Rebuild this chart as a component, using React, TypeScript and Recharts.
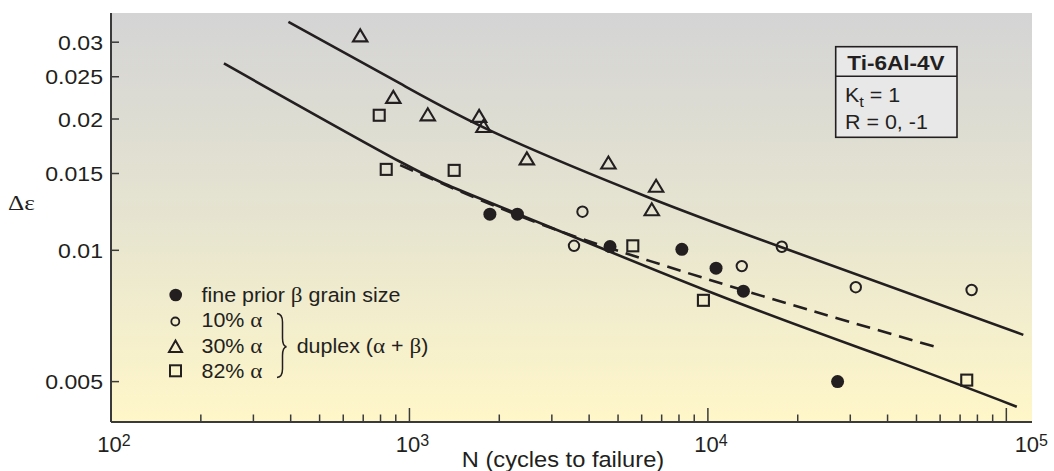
import React from 'react';
import { ComposedChart, XAxis, YAxis, Line, Scatter, CartesianGrid } from 'recharts';

// ---------- data (N = cycles to failure, e = strain range) ----------
const fineBetaN = [1860, 2300, 4700, 8180, 10650, 13150, 27200];
const fineBetaE = [0.0121, 0.0121, 0.0102, 0.01005, 0.0091, 0.00806, 0.005];

const alpha10N = [3800, 3560, 12990, 17690, 31300, 76500];
const alpha10E = [0.01226, 0.01024, 0.0092, 0.01019, 0.00823, 0.00811];

const alpha30N = [684, 883, 1152, 1712, 1770, 2474, 4642, 6707, 6486];
const alpha30E = [0.0311, 0.02248, 0.0205, 0.02033, 0.01927, 0.01625, 0.0159, 0.01406, 0.01242];

const alpha82N = [792, 836, 1412, 5603, 9661, 73680];
const alpha82E = [0.0204, 0.01533, 0.01525, 0.01024, 0.00768, 0.00504];

const upperN = [393, 930, 2013, 6243, 17460, 114000];
const upperE = [0.03338, 0.02413, 0.01837, 0.01327, 0.01019, 0.0064];

const lowerN = [239, 931, 2013, 10430, 41820, 108400];
const lowerE = [0.02682, 0.01596, 0.01259, 0.00797, 0.0056, 0.00438];

const dashedN = [931, 2537, 6243, 16160, 57690];
const dashedE = [0.01568, 0.01173, 0.0095, 0.00776, 0.00601];

const xTicks = [
  100, 200, 300, 400, 500, 600, 700, 800, 900,
  1000, 2000, 3000, 4000, 5000, 6000, 7000, 8000, 9000,
  10000, 20000, 30000, 40000, 50000, 60000, 70000, 80000, 90000,
  100000,
];
const xMajor = [100, 1000, 10000, 100000];
const xMajorExp = ['2', '3', '4', '5'];
const yTicks = [0.005, 0.01, 0.015, 0.02, 0.025, 0.03];
const yTickLabels = ['0.005', '0.01', '0.015', '0.02', '0.025', '0.03'];

const zip = (ns: number[], es: number[]) => ns.map((n, i) => ({ n, e: es[i] }));
const fineBeta = zip(fineBetaN, fineBetaE);
const alpha10 = zip(alpha10N, alpha10E);
const alpha30 = zip(alpha30N, alpha30E);
const alpha82 = zip(alpha82N, alpha82E);
const upper = zip(upperN, upperE);
const lower = zip(lowerN, lowerE);
const dashed = zip(dashedN, dashedE);

// ---------- styles ----------
const INK = '#231f20';
const AXIS = '#3a3a3a';
const SANS = '"Liberation Sans", Arial, Helvetica, sans-serif';
const SERIF = '"Liberation Serif", "Times New Roman", serif';
const SX = 1.1;
const xLabelShift = [3, 3, 3, 25];

const Txt = ({ x, y, size, anchor = 'start', weight = 'normal', sx = SX, family = SANS, children }: any) => (
  <text
    transform={`translate(${x} ${y}) scale(${sx} 1)`}
    fontSize={size}
    textAnchor={anchor}
    fontWeight={weight}
    fontFamily={family}
    fill={INK}
  >
    {children}
  </text>
);

// ---------- markers ----------
const FilledDot = (p: any) => <circle cx={p.cx} cy={p.cy} r={6.5} fill={INK} />;
const OpenDot = (p: any) => <circle cx={p.cx} cy={p.cy} r={5.2} fill="none" stroke={INK} strokeWidth={2} />;
const Tri = (p: any) => (
  <path
    d={`M${p.cx},${p.cy - 6} L${p.cx + 7.2},${p.cy + 6} L${p.cx - 7.2},${p.cy + 6} Z`}
    fill="none"
    stroke={INK}
    strokeWidth={2.1}
  />
);
const Sq = (p: any) => (
  <rect x={p.cx - 5.5} y={p.cy - 5.5} width={11} height={11} fill="none" stroke={INK} strokeWidth={2.1} />
);

// ---------- ticks ----------
const isMajor = (v: number) => xMajor.indexOf(v) >= 0;

const BottomTick = (props: any) => {
  const { x, y, payload } = props;
  const v = payload.value;
  const mi = xMajor.indexOf(v);
  return (
    <g>
      <line x1={x} x2={x} y1={y} y2={y - (mi >= 0 ? 14 : 7.5)} stroke={AXIS} strokeWidth={1.5} />
      {mi >= 0 && (
        <text x={x + xLabelShift[mi]} y={y + 29.7} textAnchor="middle" fontSize={22} fontFamily={SANS} fill={INK}>
          10
          <tspan fontSize={16} dy={-6}>
            {xMajorExp[mi]}
          </tspan>
        </text>
      )}
    </g>
  );
};

const TopTick = (props: any) => {
  const { x, y, payload } = props;
  return <line x1={x} x2={x} y1={y} y2={y + (isMajor(payload.value) ? 14 : 7.5)} stroke={AXIS} strokeWidth={1.5} />;
};

const LeftTick = (props: any) => {
  const { x, y, payload, index } = props;
  const i = yTicks.indexOf(payload.value);
  return (
    <g>
      <line x1={x} x2={x + 8} y1={y} y2={y} stroke={AXIS} strokeWidth={1.5} />
      <Txt x={x - 8} y={y + 7.5} size={21} anchor="end">
        {yTickLabels[i >= 0 ? i : index]}
      </Txt>
    </g>
  );
};

const RightTick = (props: any) => {
  const { x, y } = props;
  return <line x1={x} x2={x - 8} y1={y} y2={y} stroke={AXIS} strokeWidth={1.5} />;
};

// ---------- overlay (legend, annotation, axis titles) ----------
const Overlay = () => (
  <g>
    <Txt x={8} y={210} size={22} sx={1.15} family={SERIF}>
      Δε
    </Txt>
    <Txt x={563} y={466.5} size={21.5} anchor="middle">
      N (cycles to failure)
    </Txt>

    <rect x={835.7} y={46.7} width={121.3} height={90.6} fill="#e8e8e8" stroke={INK} strokeWidth={1.6} />
    <line x1={835.7} x2={957} y1={76.3} y2={76.3} stroke={INK} strokeWidth={1.6} />
    <Txt x={896} y={69.5} size={20.5} anchor="middle" weight="bold">
      Ti-6Al-4V
    </Txt>
    <Txt x={845} y={101.5} size={19.5}>
      K
      <tspan fontSize={15} dy={5}>
        t
      </tspan>
      <tspan dy={-5}> = 1</tspan>
    </Txt>
    <Txt x={845} y={128.5} size={19.5}>
      R = 0, -1
    </Txt>

    <circle cx={175.7} cy={295} r={6.3} fill={INK} />
    <circle cx={175.3} cy={321.5} r={4} fill="none" stroke={INK} strokeWidth={1.8} />
    <path d="M175.5,340.5 L182,352 L169,352 Z" fill="none" stroke={INK} strokeWidth={2} />
    <rect x={170} y={365.3} width={11} height={11} fill="none" stroke={INK} strokeWidth={2} />

    <Txt x={201.5} y={301.7} size={19.5}>
      fine prior <tspan fontFamily={SERIF} fontSize={21}>β</tspan> grain size
    </Txt>
    <Txt x={201.5} y={327} size={19.5}>
      10% <tspan fontFamily={SERIF} fontSize={21}>α</tspan>
    </Txt>
    <Txt x={201.5} y={352.5} size={19.5}>
      30% <tspan fontFamily={SERIF} fontSize={21}>α</tspan>
    </Txt>
    <Txt x={201.5} y={378.3} size={19.5}>
      82% <tspan fontFamily={SERIF} fontSize={21}>α</tspan>
    </Txt>

    <path
      d="M277,313.5 Q282.5,314 282.5,322 L282.5,338 Q282.5,346 286.5,346.7 Q282.5,347.5 282.5,355.5 L282.5,369 Q282.5,377 277,377.5"
      fill="none"
      stroke={INK}
      strokeWidth={1.5}
    />
    <Txt x={296.7} y={352.5} size={19.5}>
      duplex (<tspan fontFamily={SERIF} fontSize={21}>α</tspan> + <tspan fontFamily={SERIF} fontSize={21}>β</tspan>)
    </Txt>
  </g>
);

export default function App() {
  const axisLine = { stroke: AXIS, strokeWidth: 2 };
  return (
    <div style={{ position: 'absolute', left: 0, top: 0, width: 1054, height: 471 }}>
      <ComposedChart width={1054} height={471} margin={{ top: 13, right: 22, bottom: 0, left: 0 }}>
        <defs>
          <linearGradient id="plotBg" x1="0" y1="0" x2="0" y2="1">
            <stop offset="0%" stopColor="#d4d4d5" />
            <stop offset="50%" stopColor="#e6e4d0" />
            <stop offset="100%" stopColor="#fff7c9" />
          </linearGradient>
        </defs>
        <CartesianGrid
          xAxisId="bottom"
          yAxisId="left"
          horizontal={false}
          vertical={false}
          fill="url(#plotBg)"
          fillOpacity={1}
          stroke="none"
        />
        <XAxis
          xAxisId="bottom"
          orientation="bottom"
          dataKey="n"
          type="number"
          scale="log"
          domain={[100, 121900]}
          allowDataOverflow
          ticks={xTicks}
          interval={0}
          tick={BottomTick}
          tickLine={false}
          tickSize={0}
          tickMargin={0}
          height={49}
          axisLine={axisLine}
        />
        <XAxis
          xAxisId="top"
          orientation="top"
          dataKey="n"
          type="number"
          scale="log"
          domain={[100, 121900]}
          allowDataOverflow
          ticks={xTicks}
          interval={0}
          tick={TopTick}
          tickLine={false}
          tickSize={0}
          tickMargin={0}
          height={0}
          axisLine={axisLine}
        />
        <YAxis
          yAxisId="left"
          orientation="left"
          dataKey="e"
          type="number"
          scale="log"
          domain={[0.00404, 0.035]}
          allowDataOverflow
          ticks={yTicks}
          interval={0}
          tick={LeftTick}
          tickLine={false}
          tickSize={0}
          tickMargin={0}
          width={111}
          axisLine={axisLine}
        />
        <YAxis
          yAxisId="right"
          orientation="right"
          dataKey="e"
          type="number"
          scale="log"
          domain={[0.00404, 0.035]}
          allowDataOverflow
          ticks={yTicks}
          interval={0}
          tick={RightTick}
          tickLine={false}
          tickSize={0}
          tickMargin={0}
          width={0}
          axisLine={axisLine}
        />

        <Line xAxisId="bottom" yAxisId="left" data={upper} dataKey="e" type="natural" stroke={INK} strokeWidth={2.6} dot={false} activeDot={false} isAnimationActive={false} />
        <Line xAxisId="bottom" yAxisId="left" data={lower} dataKey="e" type="natural" stroke={INK} strokeWidth={2.6} dot={false} activeDot={false} isAnimationActive={false} />
        <Line xAxisId="bottom" yAxisId="left" data={dashed} dataKey="e" type="natural" stroke={INK} strokeWidth={2.6} strokeDasharray="14 8" dot={false} activeDot={false} isAnimationActive={false} />

        <Scatter xAxisId="bottom" yAxisId="left" data={fineBeta} dataKey="e" shape={FilledDot} isAnimationActive={false} />
        <Scatter xAxisId="bottom" yAxisId="left" data={alpha10} dataKey="e" shape={OpenDot} isAnimationActive={false} />
        <Scatter xAxisId="bottom" yAxisId="left" data={alpha30} dataKey="e" shape={Tri} isAnimationActive={false} />
        <Scatter xAxisId="bottom" yAxisId="left" data={alpha82} dataKey="e" shape={Sq} isAnimationActive={false} />

        <Overlay />
      </ComposedChart>
    </div>
  );
}
